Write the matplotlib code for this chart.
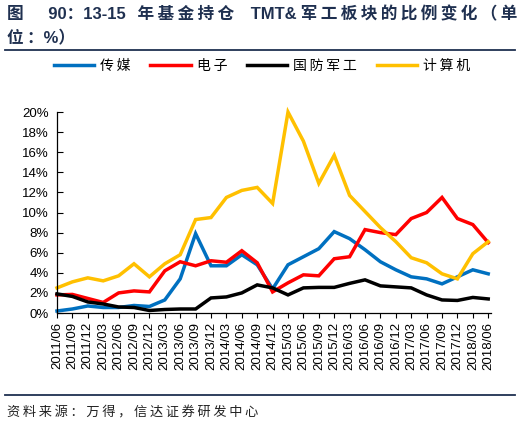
import numpy as np
import matplotlib
matplotlib.use('Agg')
import matplotlib.pyplot as plt
from matplotlib.lines import Line2D

plt.rcParams['font.family'] = ['Liberation Sans', 'Noto Sans CJK SC', 'DejaVu Sans']

# 季度标签
quarters = ['2011/06', '2011/09', '2011/12', '2012/03', '2012/06', '2012/09', '2012/12',
            '2013/03', '2013/06', '2013/09', '2013/12', '2014/03', '2014/06', '2014/09',
            '2014/12', '2015/03', '2015/06', '2015/09', '2015/12', '2016/03', '2016/06',
            '2016/09', '2016/12', '2017/03', '2017/06', '2017/09', '2017/12', '2018/03',
            '2018/06']

# 各板块持仓比例 (%)
media = [0.2, 0.4, 0.7, 0.55, 0.55, 0.75, 0.65, 1.3, 3.4, 7.9, 4.7, 4.7, 5.8, 4.8, 2.4,
         4.8, 5.6, 6.4, 8.1, 7.4, 6.3, 5.1, 4.3, 3.6, 3.4, 2.9, 3.6, 4.3, 3.9]
electronics = [1.8, 1.85, 1.45, 1.05, 2.0, 2.2, 2.1, 4.2, 5.1, 4.7, 5.2, 5.05, 6.2, 5.0, 2.1,
               3.0, 3.8, 3.7, 5.4, 5.6, 8.3, 8.0, 7.8, 9.4, 10.0, 11.5, 9.4, 8.8, 7.0]
defense = [1.9, 1.65, 1.1, 0.9, 0.6, 0.55, 0.25, 0.35, 0.4, 0.4, 1.5, 1.6, 2.0, 2.8, 2.5,
           1.8, 2.5, 2.55, 2.55, 2.95, 3.3, 2.7, 2.6, 2.5, 1.8, 1.3, 1.25, 1.55, 1.4]
computer = [2.5, 3.1, 3.5, 3.2, 3.7, 4.9, 3.6, 4.9, 5.8, 9.3, 9.5, 11.5, 12.2, 12.5, 10.9,
            20.0, 17.1, 12.9, 15.7, 11.7, 10.1, 8.5, 7.1, 5.5, 5.0, 3.9, 3.4, 5.9, 7.1]

names = ['传媒', '电子', '国防军工', '计算机']
colors = ['#0070C0', '#FF0000', '#000000', '#FFC000']
navy = '#1F3050'


def spaced(s):
    # 原图字距较宽，用细空格拉开
    return '\u2009'.join(s)


fig = plt.figure(figsize=(5.21, 4.25), dpi=100)
ax = fig.add_axes([0.1094, 0.2635, 0.8336, 0.4729])

x = np.arange(len(quarters))
for s, c in zip([media, electronics, defense, computer], colors):
    ax.plot(x, s, color=c, lw=2.5, clip_on=False, solid_joinstyle='miter')

ax.set_xlim(0, 28.2)
ax.set_ylim(0, 20)
ax.set_yticks(np.arange(0, 21, 2))
ax.set_yticklabels(['%d%%' % v for v in range(0, 21, 2)], fontsize=9.5)
ax.set_xticks(x)
ax.set_xticklabels(quarters, rotation=90, fontsize=9.5)
ax.tick_params(axis='y', direction='in', length=4, width=0.8, pad=6)
ax.tick_params(axis='x', direction='out', length=3.5, width=0.8, pad=3)
for sp in ['top', 'right']:
    ax.spines[sp].set_visible(False)
for sp in ['left', 'bottom']:
    ax.spines[sp].set_linewidth(0.9)

# 图例
handles = [Line2D([], [], color=c, lw=2.5) for c in colors]
fig.legend(handles, [spaced(n) for n in names], loc='center', bbox_to_anchor=(0.503, 0.845),
           ncol=4, frameon=False, handlelength=2.9, handletextpad=0.45, columnspacing=1.4,
           prop={'family': ['Noto Sans CJK SC', 'DejaVu Sans'], 'size': 10})

# 标题
title1 = ('图\u2003\u2009 90：13-15\u2002\u2009' + spaced('年基金持仓') + '\u2003TMT&\u2005'
          + spaced('军工板块的比例变化（单'))
fig.text(0.013, 0.967, title1, fontsize=12, fontweight='bold', color=navy,
         va='center', ha='left')
fig.text(0.013, 0.91, spaced('位：') + '%）', fontsize=12, fontweight='bold', color=navy,
         va='center', ha='left')
fig.add_artist(Line2D([0.01, 0.988], [1 - 49.5 / 425] * 2, color=navy, lw=1.3))

# 资料来源
fig.add_artist(Line2D([0.01, 0.988], [1 - 394.7 / 425] * 2, color=navy, lw=1.3))
fig.text(0.014, 1 - 413 / 425, spaced('资料来源：万得，信达证券研发中心'), fontsize=9.5,
         style='italic', color='#222222', va='center', ha='left')

fig.savefig('out.png', dpi=100)
